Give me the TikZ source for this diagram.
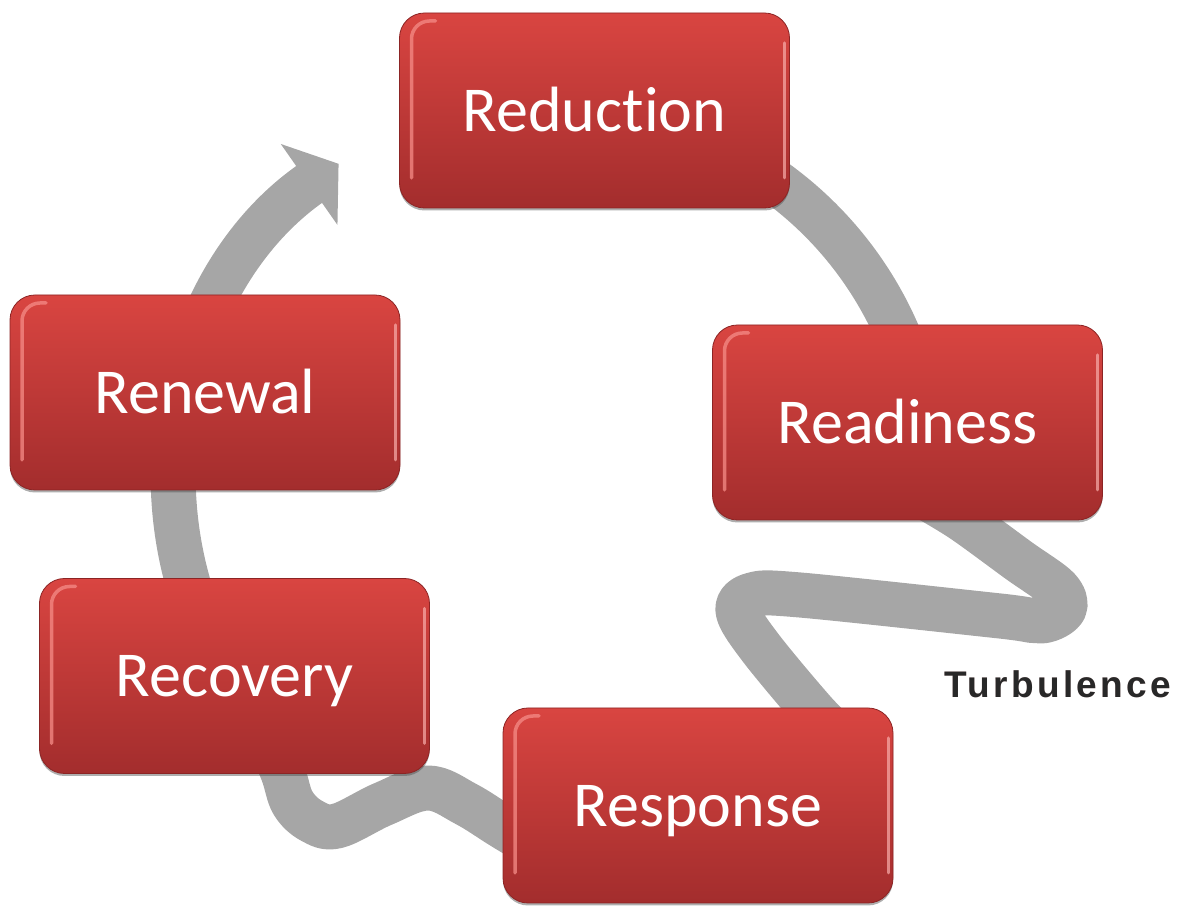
\documentclass[tikz,border=0pt]{standalone}
\usepackage{fontspec}
\usepackage[outline]{contour}
\usetikzlibrary{arrows.meta,calc,shadows}
\newfontfamily\stagefont[RawFeature={-liga;-clig;-dlig}]{Carlito}
\newfontfamily\labelfont[LetterSpace=9]{Liberation Sans}
\definecolor{boxtop}{RGB}{217,69,65}
\definecolor{boxbot}{RGB}{163,45,45}
\definecolor{boxedge}{RGB}{140,36,36}
\definecolor{hilite}{RGB}{245,140,135}
\definecolor{ribbongray}{RGB}{166,166,166}
\definecolor{labelink}{RGB}{40,40,40}
\definecolor{labelglow}{RGB}{240,212,212}
\contourlength{1.6pt}
\pgfdeclarelayer{back}
\pgfsetlayers{back,main}
\tikzset{
  stage/.style={rectangle, rounded corners=25pt, minimum width=390pt, minimum height=195pt,
    inner sep=0pt, top color=boxtop, bottom color=boxbot, draw=boxedge, line width=0.8pt,
    text=white, font=\stagefont\fontsize{64}{70}\selectfont, text height=42pt, text depth=0pt,
    drop shadow={shadow xshift=0pt, shadow yshift=-2.5pt, opacity=0.45, fill=black!70},
    path picture={
      \coordinate (ppnw) at (path picture bounding box.north west);
      \coordinate (ppse) at (path picture bounding box.south east);
      \draw[hilite, line width=3.5pt, rounded corners=18pt, line cap=round, opacity=0.75]
        ($(ppnw)+(36pt,-8pt)$) -- ($(ppnw)+(12pt,-8pt)$) -- ($(ppnw |- ppse)+(12pt,30pt)$);
      \draw[hilite!70!white, line width=3pt, line cap=round, opacity=0.7]
        ($(ppse |- ppnw)+(-5pt,-30pt)$) -- ($(ppse)+(-5pt,30pt)$);
    }},
  ribbon/.style={draw=ribbongray, line width=45pt, line join=round},
  turbtext/.style={anchor=base, inner sep=0pt,
    font=\labelfont\bfseries\fontsize{37}{42}\selectfont, text=labelink}
}
\begin{document}
\begin{tikzpicture}[x=1pt,y=1pt]
\useasboundingbox (0,0) rectangle (1187,907);

% the five stages
\node[stage] (red) at (594.5,796.5) {Reduction};
\node[stage] (rd)  at (907.5,484.5) {Readiness};
\node[stage] (rn)  at (205,514.5)   {Renewal};
\node[stage] (rc)  at (234.5,231)   {Recovery};
\node[stage] (rs)  at (698,101.5)   {Response};

% centre of the cycle
\coordinate (hub) at (560,427);

% waypoints of the turbulent stretches
\coordinate (e0) at ($(rd.south)+(18pt,23pt)$);
\coordinate (e9) at ($(rs.north)+(142pt,-29pt)$);
\coordinate (d0) at ($(rc.south)+(33.5pt,36pt)$);
\coordinate (d9) at ($(rs.west)+(42pt,-46.5pt)$);

\begin{pgfonlayer}{back}
  % Reduction -> Readiness
  \draw[ribbon] ($(hub)+(62:368pt)$) arc[start angle=62,end angle=15,radius=368pt];
  % Readiness -> Response, through the turbulence
  \draw[ribbon] plot[smooth, tension=0.55] coordinates {
    (e0) (963,387) (1018,347) (1058,318) (1064,298) (1042,286) (1000,291)
    (800,312) (752,312) (738,296) (760,260) (815,194) (e9)};
  % Response -> Recovery
  \draw[ribbon] plot[smooth, tension=0.6] coordinates {
    (d0) (283,134) (293,104) (312,86) (337,81) (383,103) (428,119) (466,103) (503,80) (d9)};
  % Recovery -> Renewal -> back to Reduction
  \draw[ribbon, -{Triangle[width=97pt,length=36pt]}]
    ($(hub)+(205:386pt)$) arc[start angle=205,end angle=125,radius=386pt];
\end{pgfonlayer}

% label of the turbulent stretch, with a soft halo
\node[turbtext] (turb) at (1058,209) {\contour{labelglow}{Turbulence}};
\end{tikzpicture}
\end{document}
